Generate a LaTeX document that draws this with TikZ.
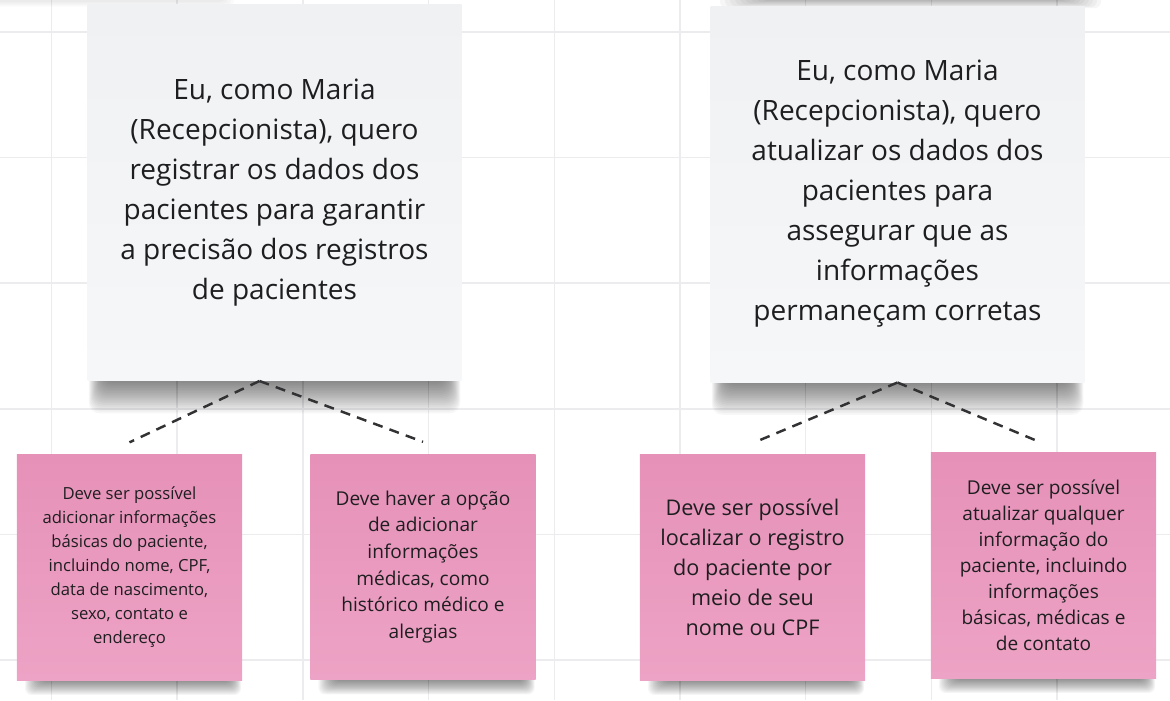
\documentclass[tikz,border=0pt]{standalone}
\usepackage{fontspec}
\setmainfont{Open Sans}
\usetikzlibrary{calc}
\pgfdeclarelayer{background}
\pgfsetlayers{background,main}

\definecolor{gridgray}{RGB}{236,236,238}
\definecolor{storytop}{RGB}{240,241,243}
\definecolor{storybot}{RGB}{246,247,249}
\definecolor{pinktop}{RGB}{230,145,184}
\definecolor{pinkbot}{RGB}{237,163,197}
\definecolor{inkdark}{RGB}{30,30,32}
\definecolor{linkgray}{RGB}{50,50,52}

\tikzset{every picture/.style={line width=0.75pt}}
\tikzset{
  story/.style={minimum width=280.5pt, minimum height=282pt, inner sep=0pt, align=center,
    top color=storytop, bottom color=storybot, text=inkdark, font=\fontsize{21}{30}\selectfont},
  crit/.style={minimum width=169pt, minimum height=169pt, inner sep=0pt, align=center,
    top color=pinktop, bottom color=pinkbot, text=inkdark},
  link/.style={color=linkgray, line width=1.85pt, dash pattern=on 7.5pt off 5.5pt},
  gridline/.style={color=gridgray, line width=1.1pt},
}

\begin{document}
\begin{tikzpicture}[x=0.75pt,y=0.75pt,yscale=-1,xscale=1]
	\useasboundingbox (0,0) rectangle (1170,700);
	
	%Shape: Sticky note [id:regA] 
	\node [story] (regA) at (274.5,192.5) {Eu, como Maria\\(Recepcionista), quero\\registrar os dados dos\\pacientes para garantir\\a precisão dos registros\\de pacientes};
	%Shape: Sticky note [id:regB] 
	\node [story] (regB) at (897.5,194) {Eu, como Maria\\(Recepcionista), quero\\atualizar os dados dos\\pacientes para\\assegurar que as\\informações\\permaneçam corretas};
	
	%Shape: Sticky note [id:crA1] 
	\node [crit, font=\fontsize{12.5}{18}\selectfont] (crA1) at (129.5,567.5) {Deve ser possível\\adicionar informações\\básicas do paciente,\\incluindo nome, CPF,\\data de nascimento,\\sexo, contato e\\endereço};
	%Shape: Sticky note [id:crA2] 
	\node [crit, font=\fontsize{14.3}{20}\selectfont] (crA2) at (423,567) {Deve haver a opção\\de adicionar\\informações\\médicas, como\\histórico médico e\\alergias};
	%Shape: Sticky note [id:crB1] 
	\node [crit, font=\fontsize{16.2}{22.5}\selectfont] (crB1) at (752.5,567.5) {Deve ser possível\\localizar o registro\\do paciente por\\meio de seu\\nome ou CPF};
	%Shape: Sticky note [id:crB2] 
	\node [crit, font=\fontsize{14.3}{19.5}\selectfont] (crB2) at (1043.5,565.5) {Deve ser possível\\atualizar qualquer\\informação do\\paciente, incluindo\\informações\\básicas, médicas e\\de contato};
	
	%Straight Lines (dashed)
	\draw [link] ($(regA.south)+(-15,0)$) -- ($(crA1.north)+(0,-12)$) ;
	\draw [link] ($(regA.south)+(-15,0)$) -- ($(crA2.north)+(0,-12)$) ;
	\draw [link] (regB.south) -- ($(crB1.north)+(2,-12)$) ;
	\draw [link] (regB.south) -- ($(crB2.north)+(-3,-10)$) ;
	
	\begin{pgfonlayer}{background}
	%Grid
	\foreach \i in {0,...,8} \draw [gridline] ({51.5+125.7*\i},0) -- ({51.5+125.7*\i},700) ;
	\foreach \j in {0,...,5} \draw [gridline] (0,{32+125.6*\j}) -- (1170,{32+125.6*\j}) ;
	
	%Shadows
	\foreach \n in {regA,regB} {
		\foreach \k in {0,...,19} \fill [black, opacity=0.03, rounded corners=8pt] ($(\n.south west)+({16-\k*0.75},-40)$) rectangle ($(\n.south east)+({-16+\k*0.75},{\k*1.7})$) ;
	}
	\foreach \n in {crA1,crA2,crB1,crB2} {
		\foreach \k in {0,...,14} \fill [black, opacity=0.035, rounded corners=5pt] ($(\n.south west)+({24-\k*1.1},-30)$) rectangle ($(\n.south east)+({-12+\k*0.75},{1+\k*0.95})$) ;
	}
	%Shadows of notes above the frame
	\foreach \k in {0,...,9} \fill [black, opacity=0.035, rounded corners=5pt] ({765-\k*5},-20) rectangle ({1065+\k*4},{\k*0.9}) ;
	\foreach \k in {0,...,3} \fill [black, opacity=0.02, rounded corners=4pt] (-10,-20) rectangle ({225+\k*3},{2+\k*1.5}) ;
	\end{pgfonlayer}
	
\end{tikzpicture}
\end{document}
